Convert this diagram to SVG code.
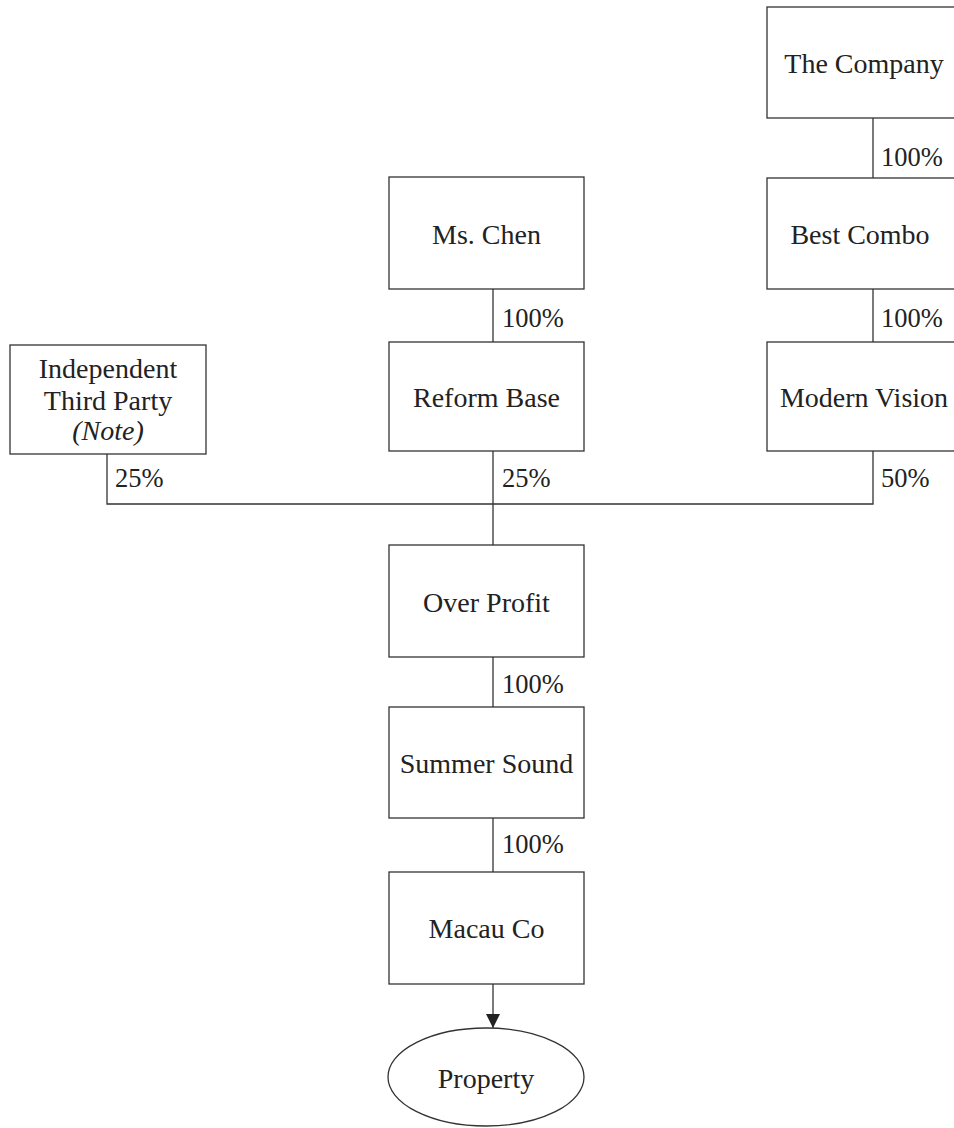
<svg xmlns="http://www.w3.org/2000/svg" width="954" height="1128" viewBox="0 0 954 1128">
<style>
.box{fill:#fff;stroke:#333;stroke-width:1.3}
.ln{fill:none;stroke:#333;stroke-width:1.3}
text{font-family:"Liberation Serif","Times New Roman",serif;font-size:28px;fill:#222}
.p{font-size:26.5px}
.c{text-anchor:middle}
</style>
<defs>
<marker id="ah" markerWidth="14" markerHeight="14" refX="14" refY="7" orient="auto" markerUnits="userSpaceOnUse">
<path d="M0,0 L14,7 L0,14 z" fill="#222"/>
</marker>
</defs>
<rect width="954" height="1128" fill="#fff"/>
<g id="connectors">
<line class="ln" x1="873" y1="118" x2="873" y2="178"/>
<line class="ln" x1="873" y1="289" x2="873" y2="342"/>
<line class="ln" x1="493" y1="289" x2="493" y2="342"/>
<polyline class="ln" points="107,454 107,504 873,504 873,451"/>
<line class="ln" x1="493" y1="451" x2="493" y2="545"/>
<line class="ln" x1="493" y1="657" x2="493" y2="707"/>
<line class="ln" x1="493" y1="818" x2="493" y2="872"/>
<line class="ln" x1="493" y1="984" x2="493" y2="1028" marker-end="url(#ah)"/>
<text class="p" x="881" y="166">100%</text>
<text class="p" x="881" y="327">100%</text>
<text class="p" x="502" y="327">100%</text>
<text class="p" x="115" y="487">25%</text>
<text class="p" x="502" y="487">25%</text>
<text class="p" x="881" y="487">50%</text>
<text class="p" x="502" y="693">100%</text>
<text class="p" x="502" y="853">100%</text>
</g>
<g id="the-company"><rect class="box" x="767" y="7" width="200" height="111"/><text class="c" x="864" y="73">The Company</text></g>
<g id="best-combo"><rect class="box" x="767" y="178" width="200" height="111"/><text class="c" x="860" y="244">Best Combo</text></g>
<g id="modern-vision"><rect class="box" x="767" y="342" width="200" height="109"/><text class="c" x="864" y="407">Modern Vision</text></g>
<g id="ms-chen"><rect class="box" x="389" y="177" width="195" height="112"/><text class="c" x="486.5" y="244">Ms. Chen</text></g>
<g id="reform-base"><rect class="box" x="389" y="342" width="195" height="109"/><text class="c" x="486.5" y="407">Reform Base</text></g>
<g id="independent-third-party"><rect class="box" x="10" y="345" width="196" height="109"/><text class="c" x="108" y="378">Independent</text><text class="c" x="108" y="410">Third Party</text><text class="c" x="108" y="440" font-style="italic">(Note)</text></g>
<g id="over-profit"><rect class="box" x="389" y="545" width="195" height="112"/><text class="c" x="486.5" y="612">Over Profit</text></g>
<g id="summer-sound"><rect class="box" x="389" y="707" width="195" height="111"/><text class="c" x="486.5" y="773">Summer Sound</text></g>
<g id="macau-co"><rect class="box" x="389" y="872" width="195" height="112"/><text class="c" x="486.5" y="938">Macau Co</text></g>
<g id="property"><ellipse class="box" cx="486" cy="1077" rx="98" ry="49"/><text class="c" x="486" y="1088">Property</text></g>
</svg>
